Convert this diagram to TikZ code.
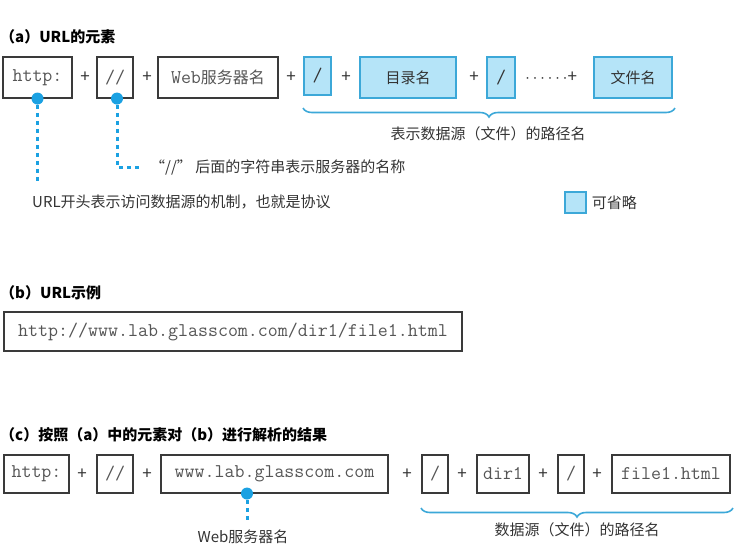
\documentclass[tikz,border=0pt]{standalone}
\usepackage{fontspec}
\setmainfont{Noto Sans CJK SC}
\usetikzlibrary{positioning,decorations.pathreplacing}

\definecolor{boxgray}{HTML}{3A3A3A}
\definecolor{urlgray}{HTML}{555555}
\definecolor{labelgray}{HTML}{333333}
\definecolor{optblue}{HTML}{3CA8D8}
\definecolor{optfill}{HTML}{B5E4F8}
\definecolor{dotblue}{HTML}{1BA1E2}

\tikzset{
  urlbox/.style={draw=boxgray, line width=1.1pt, inner sep=0pt, minimum height=41pt,
    font=\fontsize{19.4}{22}\selectfont\ttfamily, text=urlgray},
  optbox/.style={urlbox, draw=optblue, fill=optfill, font=\fontsize{15}{18}\selectfont, text=labelgray},
  plus/.style={font=\fontsize{17}{18}\selectfont, text=labelgray, inner sep=0pt},
  notetext/.style={font=\fontsize{15}{18}\selectfont, text=labelgray, inner sep=0pt},
  headtext/.style={font=\fontsize{15}{18}\selectfont\bfseries, text=black, inner sep=0pt, anchor=west},
  dot/.style={circle, fill=dotblue, inner sep=0pt, minimum size=12pt},
  dotline/.style={dotblue, line width=3pt, dash pattern=on 4pt off 4pt},
  pathbrace/.style={decorate, decoration={brace, mirror, amplitude=9pt}, draw=optblue, line width=1.6pt}
}

\begin{document}
\begin{tikzpicture}[x=1pt,y=-1pt]
\useasboundingbox (0,0) rectangle (747,558);

% (a) elements of a URL
\node[headtext] (heada) at (0,37) {（a）URL的元素};
\node[urlbox, minimum width=69pt] (scheme) at (37.5,77.5) {http:};
\node[urlbox, minimum width=36pt] (slashes) at (115,77.5) {//};
\node[urlbox, minimum width=120pt] (server) at (218,77.5) {{\ttfamily Web}{\rmfamily\fontsize{16}{18}\selectfont 服务器名}};
\node[optbox, minimum width=27pt, minimum height=38pt] (sepa) at (317.5,76) {\fontsize{19.4}{22}\selectfont\ttfamily /};
\node[optbox, minimum width=96pt] (dirname) at (408,77.5) {目录名};
\node[optbox, minimum width=28pt] (sepb) at (501,77.5) {\fontsize{19.4}{22}\selectfont\ttfamily /};
\node[optbox, minimum width=78pt] (filename) at (633,77.5) {文件名};
\foreach \x in {85,147,291,346,474} \node[plus] at (\x,77.5) {+};
\node[plus] (more) at (551,77.5) {{\fontspec{Liberation Sans}\fontsize{15}{18}\selectfont ·\,·\,·\,·\,·\,·}+};

\coordinate (pathl) at (303,108);
\coordinate (pathr) at (675,108);
\draw[pathbrace] (pathl) -- (pathr);
\node[notetext] (pathnote) at (488,134) {表示数据源（文件）的路径名};

\node[dot] (schemedot) at (scheme.south) {};
\node[dot] (slashdot) at ([xshift=2pt]slashes.south) {};
\coordinate (schemeend) at (37.5,184);
\coordinate (slashend) at (141,167);
\draw[dotline] (schemedot) -- (schemeend);
\draw[dotline] (slashdot) |- (slashend);
\node[notetext, anchor=west] (slashnote) at (150,167) {“//” 后面的字符串表示服务器的名称};
\node[notetext, anchor=west] (schemenote) at (32,202) {URL开头表示访问数据源的机制，也就是协议};

\node[optbox, minimum width=21pt, minimum height=21pt] (legend) at (575.5,202.5) {};
\node[notetext, right=5pt of legend] (legendnote) {可省略};

% (b) an example URL
\node[headtext] (headb) at (0,293) {（b）URL示例};
\node[urlbox, minimum width=458pt, minimum height=39pt] (example) at (233,331.5) {http://www.lab.glasscom.com/dir1/file1.html};

% (c) the example split into elements
\node[headtext] (headc) at (0,435) {（c）按照（a）中的元素对（b）进行解析的结果};
\node[urlbox, minimum width=65pt, minimum height=38pt] (cscheme) at (36.5,474) {http:};
\node[urlbox, minimum width=36pt, minimum height=38pt] (cslashes) at (115,474) {//};
\node[urlbox, minimum width=227pt, minimum height=38pt] (cserver) at (274.5,474) {www.lab.glasscom.com};
\node[urlbox, minimum width=26pt, minimum height=38pt] (csepa) at (435,474) {/};
\node[urlbox, minimum width=52pt, minimum height=38pt] (cdir) at (503,474) {dir1};
\node[urlbox, minimum width=26pt, minimum height=38pt] (csepb) at (571,474) {/};
\node[urlbox, minimum width=118pt, minimum height=38pt] (cfile) at (671,474) {file1.html};
\foreach \x in {82,147,407,462,543,597} \node[plus] at (\x,474) {+};

\node[dot] (serverdot) at ([xshift=-27.5pt]cserver.south) {};
\coordinate (serverend) at (247,521);
\draw[dotline] (serverdot) -- (serverend);
\node[notetext] (servernote) at (243,537) {Web服务器名};

\coordinate (cpathl) at (421,508);
\coordinate (cpathr) at (733,508);
\draw[pathbrace] (cpathl) -- (cpathr);
\node[notetext] (cpathnote) at (577,530) {数据源（文件）的路径名};
\end{tikzpicture}
\end{document}
